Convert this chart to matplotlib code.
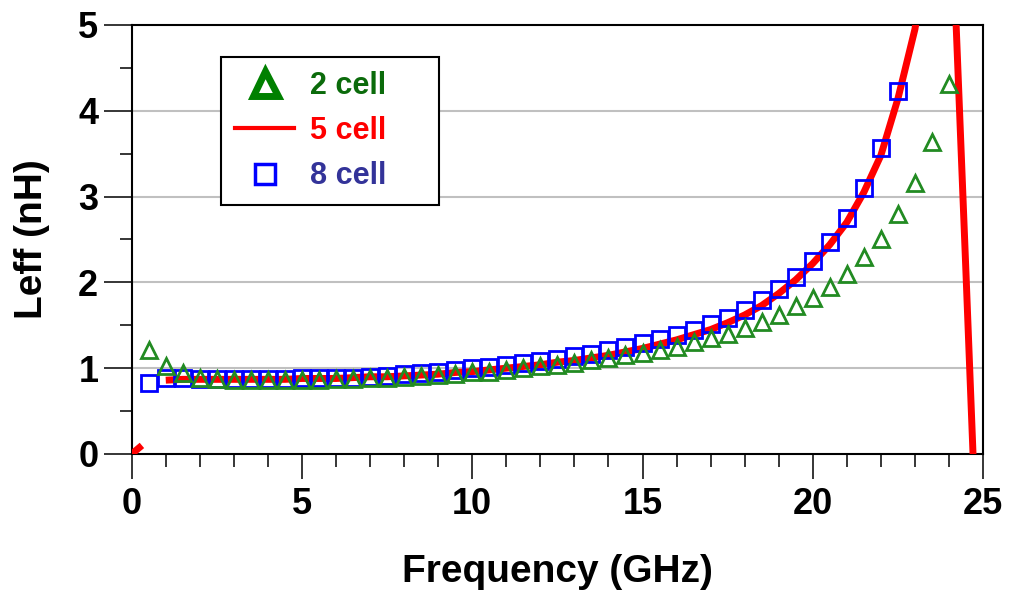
import numpy as np
import matplotlib.pyplot as plt
from matplotlib.ticker import MultipleLocator
from matplotlib.lines import Line2D

plt.rcParams['font.family'] = ['Liberation Sans', 'DejaVu Sans']
plt.rcParams['font.weight'] = 'bold'

# 2 cell (segitiga)
frek_2 = [0.5, 1.0, 1.5, 2.0, 2.5, 3.0, 3.5, 4.0, 4.5, 5.0, 5.5, 6.0, 6.5, 7.0, 7.5, 8.0,
          8.5, 9.0, 9.5, 10.0, 10.5, 11.0, 11.5, 12.0, 12.5, 13.0, 13.5, 14.0, 14.5, 15.0,
          15.5, 16.0, 16.5, 17.0, 17.5, 18.0, 18.5, 19.0, 19.5, 20.0, 20.5, 21.0, 21.5,
          22.0, 22.5, 23.0, 23.5, 24.0]
leff_2 = [1.21, 1.03, 0.94, 0.89, 0.87, 0.86, 0.86, 0.86, 0.86, 0.86, 0.86, 0.87, 0.87,
          0.88, 0.89, 0.90, 0.91, 0.92, 0.93, 0.95, 0.96, 0.98, 1.00, 1.02, 1.04, 1.06,
          1.09, 1.12, 1.15, 1.18, 1.21, 1.25, 1.30, 1.35, 1.40, 1.47, 1.54, 1.62, 1.72,
          1.82, 1.95, 2.10, 2.29, 2.51, 2.80, 3.16, 3.64, 4.31]

# 5 cell (garis)
frek_5 = [0.0, 0.3, np.nan, 1.0, 1.5, 2.0, 2.5, 3.0, 3.5, 4.0, 4.5, 5.0, 5.5, 6.0, 6.5,
          7.0, 7.5, 8.0, 8.5, 9.0, 9.5, 10.0, 10.5, 11.0, 11.5, 12.0, 12.5, 13.0, 13.5,
          14.0, 14.5, 15.0, 15.5, 16.0, 16.5, 17.0, 17.5, 18.0, 18.5, 19.0, 19.5, 20.0,
          20.5, 21.0, 21.5, 22.0, 22.5, 23.0, 23.5, 24.0, 24.5, 25.0]
leff_5 = [0.0, 0.1, np.nan, 0.86, 0.87, 0.87, 0.87, 0.87, 0.87, 0.87, 0.87, 0.88, 0.88,
          0.88, 0.89, 0.90, 0.90, 0.91, 0.92, 0.93, 0.95, 0.96, 0.98, 1.00, 1.02, 1.04,
          1.07, 1.09, 1.12, 1.15, 1.19, 1.23, 1.28, 1.33, 1.39, 1.45, 1.53, 1.62, 1.73,
          1.87, 2.03, 2.22, 2.44, 2.70, 3.05, 3.48, 4.14, 4.95, 6.2, 7.1, 2.1, -3.0]

# 8 cell (kotak)
frek_8 = [0.5, 1.0, 1.5, 2.0, 2.5, 3.0, 3.5, 4.0, 4.5, 5.0, 5.5, 6.0, 6.5, 7.0, 7.5, 8.0,
          8.5, 9.0, 9.5, 10.0, 10.5, 11.0, 11.5, 12.0, 12.5, 13.0, 13.5, 14.0, 14.5, 15.0,
          15.5, 16.0, 16.5, 17.0, 17.5, 18.0, 18.5, 19.0, 19.5, 20.0, 20.5, 21.0, 21.5,
          22.0, 22.5]
leff_8 = [0.83, 0.88, 0.88, 0.87, 0.87, 0.87, 0.87, 0.87, 0.87, 0.88, 0.88, 0.89, 0.89,
          0.90, 0.91, 0.93, 0.94, 0.96, 0.98, 1.00, 1.01, 1.04, 1.06, 1.08, 1.11, 1.14,
          1.17, 1.21, 1.25, 1.29, 1.34, 1.39, 1.45, 1.51, 1.58, 1.68, 1.79, 1.92, 2.06,
          2.25, 2.47, 2.75, 3.10, 3.57, 4.23]

fig = plt.figure(figsize=(10.1, 5.94), dpi=100)
ax = fig.add_axes([0.1304, 0.2357, 0.8429, 0.7223])

ax.plot(frek_5, leff_5, color='red', lw=5, solid_capstyle='butt', zorder=3)
ax.plot(frek_8, leff_8, ls='none', marker='s', ms=11.5, mfc='none', mec='blue', mew=2, zorder=4)
ax.plot(frek_2, leff_2, ls='none', marker='^', ms=12, mfc='none', mec='#228b22', mew=2, zorder=5)

ax.set_xlim(0, 25)
ax.set_ylim(0, 5)
ax.xaxis.set_major_locator(MultipleLocator(5))
ax.xaxis.set_minor_locator(MultipleLocator(1))
ax.yaxis.set_major_locator(MultipleLocator(1))
ax.yaxis.set_minor_locator(MultipleLocator(0.5))
ax.tick_params(which='both', direction='out', width=1.1, labelsize=26)
ax.tick_params(axis='x', which='major', length=18, pad=6)
ax.tick_params(axis='y', which='major', length=20, pad=4)
ax.tick_params(which='minor', length=9)
for s in ax.spines.values():
    s.set_linewidth(1.5)

for y in [1, 2, 3, 4]:
    ax.axhline(y, color='#c0c0c0', lw=1.5, zorder=1)

ax.set_xlabel('Frequency (GHz)', fontsize=28, fontweight='bold', labelpad=23)
ax.set_ylabel('Leff (nH)', fontsize=28, fontweight='bold', labelpad=20)

handles = [
    Line2D([], [], ls='none', marker='^', ms=18, mfc='white', mec='#008000', mew=5),
    Line2D([], [], color='red', lw=3),
    Line2D([], [], ls='none', marker='s', ms=15, mfc='none', mec='blue', mew=2.5),
]
leg = ax.legend(handles, ['2 cell', '5 cell', '8 cell'], loc='upper left',
                bbox_to_anchor=(0.105, 0.625, 0.256, 0.3), mode='expand', borderaxespad=0,
                fontsize=22, frameon=True, fancybox=False, framealpha=1, edgecolor='black',
                handlelength=1.95, handletextpad=0.5, borderpad=0.45, labelspacing=0.5)
leg.get_frame().set_linewidth(1.5)
for t, c in zip(leg.get_texts(), ['#0b6b0b', 'red', '#333399']):
    t.set_color(c)
    t.set_fontweight('bold')

fig.savefig('out.png', dpi=100)
